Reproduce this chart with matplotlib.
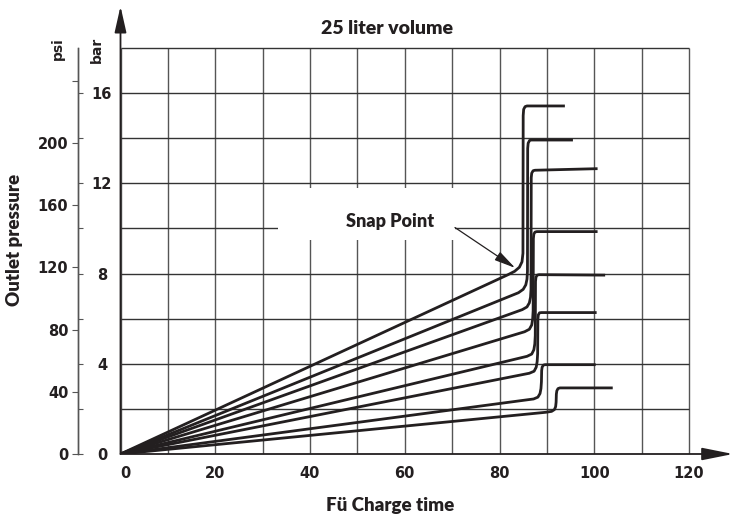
import matplotlib
matplotlib.use("Agg")
import matplotlib.pyplot as plt
from matplotlib.patches import Rectangle

plt.rcParams['font.family'] = ['DejaVu Sans']
plt.rcParams['font.weight'] = 'bold'

# ---------------- data ----------------
title = "25 liter volume"
x_label = "Fü Charge time"
y_label = "Outlet pressure"
x_ticks = [0, 20, 40, 60, 80, 100, 120]
bar_ticks = [0, 2, 4, 6, 8, 10, 12, 14, 16]
bar_tick_labels = ["0", "", "4", "", "8", "", "12", "", "16"]
psi_ticks = [0, 40, 80, 120, 160, 200, 240]
psi_tick_labels = ["0", "40", "80", "120", "160", "200", ""]
PSI_PER_BAR = 14.5038

c1_x = [0, 81.8, 83.2, 84.2, 84.75, 84.95, 85.0, 85.1, 85.4, 85.8, 93.8]
c1_y = [0, 7.95, 8.1, 8.28, 8.52, 8.9, 15.0, 15.28, 15.4, 15.43, 15.43]
c2_x = [0, 84.0, 85.0, 85.55, 85.8, 85.9, 85.95, 86.05, 86.35, 86.7, 95.5]
c2_y = [0, 7.15, 7.3, 7.5, 7.75, 8.1, 13.55, 13.78, 13.9, 13.92, 13.92]
c3_x = [0, 84.8, 85.8, 86.3, 86.55, 86.65, 86.7, 86.8, 87.1, 87.5, 100.7]
c3_y = [0, 6.4, 6.52, 6.7, 6.95, 7.3, 12.25, 12.45, 12.56, 12.58, 12.65]
c4_x = [0, 85.3, 86.3, 86.8, 87.0, 87.1, 87.15, 87.25, 87.5, 87.9, 100.7]
c4_y = [0, 5.42, 5.53, 5.72, 5.98, 6.35, 9.55, 9.75, 9.84, 9.86, 9.86]
c5_x = [0, 85.8, 86.8, 87.25, 87.45, 87.55, 87.6, 87.7, 87.95, 88.35, 102.3]
c5_y = [0, 4.33, 4.43, 4.62, 4.88, 5.25, 7.65, 7.84, 7.93, 7.95, 7.93]
c6_x = [0, 86.3, 87.3, 87.75, 87.95, 88.05, 88.1, 88.2, 88.45, 88.85, 100.5]
c6_y = [0, 3.58, 3.67, 3.85, 4.1, 4.45, 5.98, 6.17, 6.26, 6.27, 6.27]
c7_x = [0, 87.2, 88.1, 88.55, 88.75, 88.85, 88.9, 89.0, 89.25, 89.6, 100.3]
c7_y = [0, 2.44, 2.52, 2.68, 2.9, 3.2, 3.7, 3.85, 3.94, 3.96, 3.96]
c8_x = [0, 89.8, 91.0, 91.6, 91.85, 91.95, 92.0, 92.1, 92.35, 92.75, 103.9]
c8_y = [0, 1.85, 1.89, 1.97, 2.1, 2.3, 2.65, 2.8, 2.9, 2.93, 2.93]
curves = [(c1_x, c1_y), (c2_x, c2_y), (c3_x, c3_y), (c4_x, c4_y),
          (c5_x, c5_y), (c6_x, c6_y), (c7_x, c7_y), (c8_x, c8_y)]

snap_text = "Snap Point"
snap_text_xy = (56.9, 10.3)
snap_arrow_from = (70.6, 10.04)
snap_arrow_to = (83.3, 8.25)

# ---------------- layout ----------------
W, H = 734, 521
fig = plt.figure(figsize=(W / 100, H / 100), dpi=100)
px_x = 4.7375      # pixels per x unit
px_y = 22.556      # pixels per bar
x0_px, y0_px = 120.5, 454.0
XMAX, YMAX = 130.0, 19.9
ax = fig.add_axes([x0_px / W, (H - y0_px) / H, XMAX * px_x / W, YMAX * px_y / H])
ax.set_xlim(0, XMAX)
ax.set_ylim(0, YMAX)
ax.patch.set_visible(False)
for s in ['top', 'left', 'bottom']:
    ax.spines[s].set_visible(False)

INK = '#231f20'
HEAD_FONT = ['Lato', 'DejaVu Sans']

# grid
for xv in range(0, 121, 10):
    ax.plot([xv, xv], [0, 18], color='#555555', lw=1.0, zorder=1, solid_capstyle='butt')
for yv in range(2, 19, 2):
    ax.plot([0, 120], [yv, yv], color='#333333', lw=1.0, zorder=1, solid_capstyle='butt')

# white box behind label
ax.add_patch(Rectangle((33.2, 9.47), 70.6 - 33.2, 11.8 - 9.47, facecolor='white',
                       edgecolor='none', zorder=1.5))

# main axes arrows
ax.annotate("", xy=(129.3, 0), xytext=(0, 0), annotation_clip=False,
            arrowprops=dict(arrowstyle="-|>,head_length=1.9,head_width=0.38",
                            mutation_scale=10, lw=1.3, color=INK, shrinkA=0, shrinkB=0),
            zorder=4)
ax.annotate("", xy=(0, 19.85), xytext=(0, 0), annotation_clip=False,
            arrowprops=dict(arrowstyle="-|>,head_length=1.6,head_width=0.36",
                            mutation_scale=10, lw=1.3, color=INK, shrinkA=0, shrinkB=0),
            zorder=4)

# curves
for cx, cy in curves:
    ax.plot(cx, cy, color=INK, lw=2.0, zorder=3, solid_joinstyle='round',
            solid_capstyle='butt')

# snap point
ax.text(snap_text_xy[0], snap_text_xy[1], snap_text, ha='center', va='center',
        fontsize=13, family=HEAD_FONT, fontweight='heavy', color=INK, zorder=4)
ax.annotate("", xy=snap_arrow_to, xytext=snap_arrow_from,
            arrowprops=dict(arrowstyle="-|>,head_length=1.3,head_width=0.3",
                            mutation_scale=10, lw=0.9, color=INK, shrinkA=0, shrinkB=0),
            zorder=4)

# x ticks
ax.set_xticks(x_ticks)
ax.set_xticklabels([str(t) for t in x_ticks])
ax.tick_params(axis='x', length=0, pad=9, labelsize=10.5, colors=INK)
ax.get_xticklabels()[0].set_horizontalalignment('left')

# bar axis (uses right spine placed to the left)
axis_x = (78.5 - x0_px) / px_x
ax.spines['right'].set_position(('data', axis_x))
ax.spines['right'].set_bounds(0, 18)
ax.spines['right'].set_color('#555555')
ax.spines['right'].set_linewidth(1.0)
ax.yaxis.set_ticks_position('right')
ax.set_yticks(bar_ticks)
ax.set_yticklabels(bar_tick_labels)
ax.tick_params(axis='y', direction='out', length=3.6, width=0.8, color='#555555',
               labelsize=10.5, labelcolor=INK, pad=13.3)
for t in ax.get_yticklabels():
    t.set_horizontalalignment('center')

# psi axis
sec = ax.secondary_yaxis(axis_x / XMAX, functions=(lambda b: b * PSI_PER_BAR,
                                                   lambda p: p / PSI_PER_BAR))
sec.spines['left'].set_bounds(0, 18 * PSI_PER_BAR)
sec.spines['left'].set_color('#555555')
sec.spines['left'].set_linewidth(1.0)
sec.set_yticks(psi_ticks)
sec.set_yticklabels(psi_tick_labels)
sec.tick_params(axis='y', direction='out', length=4.3, width=0.8, color='#555555',
                labelsize=10.5, labelcolor=INK, pad=3)

# texts
fig.text(387 / W, 1 - 28 / H, title, ha='center', va='center', fontsize=14,
         family=HEAD_FONT, fontweight='heavy', color=INK)
fig.text(390 / W, 1 - 506 / H, x_label, ha='center', va='center', fontsize=13.5,
         family=HEAD_FONT, fontweight='heavy', color=INK)
fig.text(15 / W, 1 - 240 / H, y_label, ha='center', va='center', fontsize=13.5,
         rotation=90, family=HEAD_FONT, fontweight='heavy', color=INK)
fig.text(57.5 / W, 1 - 49 / H, "psi", ha='center', va='center', fontsize=10,
         rotation=90, color=INK)
fig.text(97 / W, 1 - 50 / H, "bar", ha='center', va='center', fontsize=10,
         rotation=90, color=INK)

fig.savefig("out.png", dpi=100)
